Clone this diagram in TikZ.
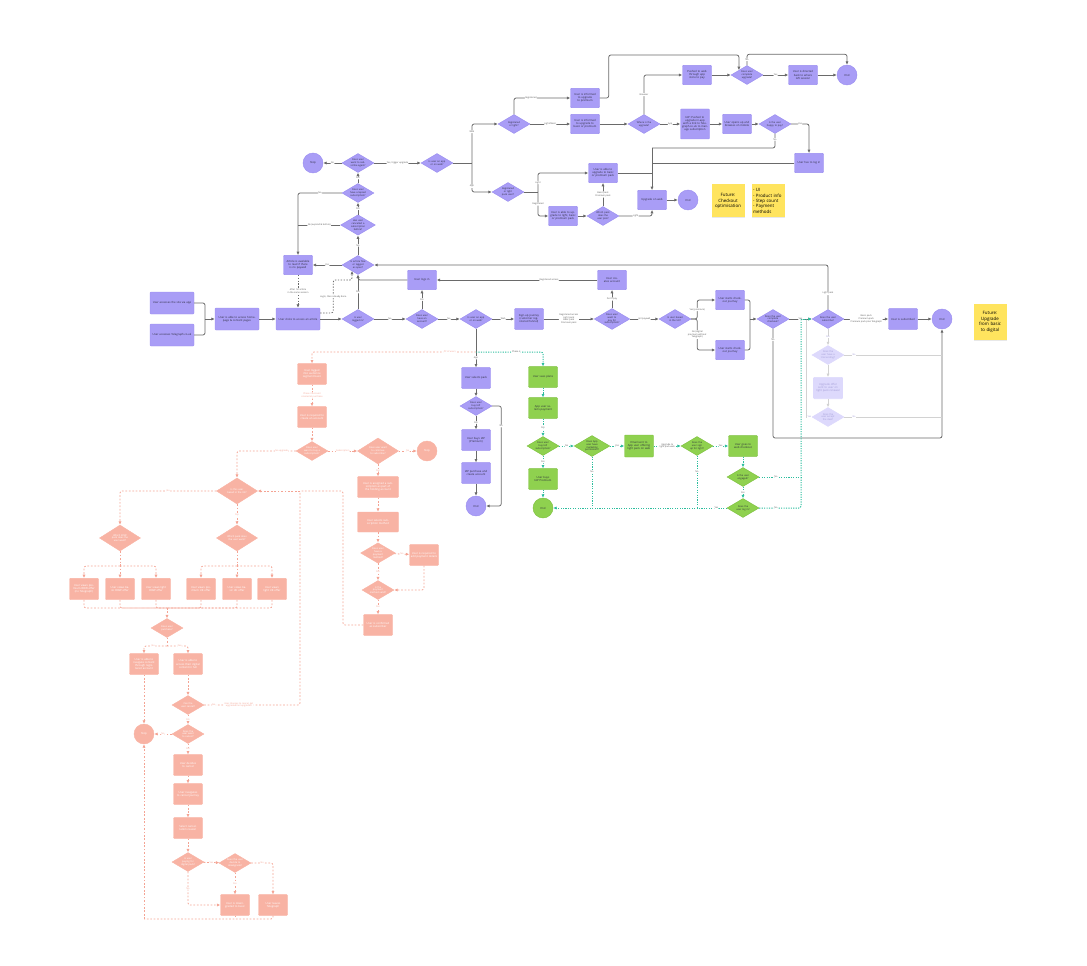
\documentclass[tikz,border=0pt]{standalone}
\usepackage{fontspec}
\setmainfont{Open Sans}
\usepackage{tikz}
\usetikzlibrary{arrows.meta, shapes.geometric, shadows}

\definecolor{lavFill}{HTML}{A99DF6}
\definecolor{lavEdge}{HTML}{9A8DF0}
\definecolor{leafFill}{HTML}{8FD14F}
\definecolor{leafEdge}{HTML}{7DC03E}
\definecolor{coralFill}{HTML}{F8B3A4}
\definecolor{coralLine}{HTML}{F4A494}
\definecolor{ghostFill}{HTML}{DDD9FC}
\definecolor{ghostText}{HTML}{A29CD6}
\definecolor{ghostLine}{HTML}{D2D2D2}
\definecolor{lineGrey}{HTML}{6A6A6A}
\definecolor{labelGrey}{HTML}{555555}
\definecolor{tealLine}{HTML}{2DBE9E}
\definecolor{stickyFill}{HTML}{FFE45E}
\definecolor{nodeInk}{HTML}{2A2A3A}

\newcommand{\nodetext}{\fontsize{1.9}{2.2}\selectfont}
\newcommand{\diatext}{\fontsize{1.7}{2.0}\selectfont}
\newcommand{\edgetext}{\fontsize{1.6}{1.9}\selectfont}
\newcommand{\notetext}{\fontsize{3.1}{3.8}\selectfont}

\begin{document}
\begin{tikzpicture}[x=0.7pt, y=-0.7pt,
    box/.style={rectangle, rounded corners=0.6pt, minimum width=20.3pt, minimum height=13.5pt, text width=18.5pt, align=center, inner sep=0pt, font=\nodetext},
    widebox/.style={box, minimum width=30.8pt, minimum height=15.4pt, text width=28pt},
    dia/.style={diamond, aspect=1.7, minimum width=22.4pt, minimum height=13.3pt, text width=12pt, align=center, inner sep=0pt, font=\diatext},
    bigdia/.style={dia, minimum width=28.7pt, minimum height=18.2pt, text width=15pt},
    term/.style={circle, minimum size=14pt, inner sep=0pt, font=\nodetext},
    lav/.style={fill=lavFill, draw=lavEdge, line width=0.3pt, text=nodeInk},
    leaf/.style={fill=leafFill, draw=leafEdge, line width=0.3pt, text=nodeInk},
    coral/.style={fill=coralFill, draw=coralFill, line width=0.3pt, text=white},
    ghost/.style={fill=ghostFill, draw=ghostFill, text=ghostText},
    conn/.style={draw=lineGrey, line width=0.55pt, rounded corners=1.5pt},
    arr/.style={conn, -{Latex[length=2.4pt, width=2.2pt]}},
    dconn/.style={conn, dash pattern=on 1pt off 1pt},
    darr/.style={dconn, -{Latex[length=2.4pt, width=2.2pt]}},
    pconn/.style={draw=coralLine, line width=0.55pt, dash pattern=on 1.2pt off 1.2pt, rounded corners=1.5pt},
    parr/.style={pconn, -{Latex[length=2.4pt, width=2.2pt]}},
    gconn/.style={draw=tealLine, line width=0.7pt, dash pattern=on 0.8pt off 0.9pt, rounded corners=1.5pt},
    garr/.style={gconn, -{Latex[length=2.4pt, width=2.2pt]}},
    fconn/.style={draw=ghostLine, line width=0.55pt},
    farr/.style={fconn, -{Latex[length=2.4pt, width=2.2pt]}},
    lbl/.style={font=\edgetext, fill=white, inner sep=0.4pt, text=labelGrey, align=center},
    plbl/.style={lbl, text=coralLine},
    note/.style={rectangle, fill=stickyFill, minimum size=23.1pt, text width=21pt, align=center, font=\notetext, inner sep=0pt, drop shadow={opacity=0.18, shadow xshift=0.4pt, shadow yshift=-0.6pt}}]

    \useasboundingbox (0,0) rectangle (1087,965);

    % main row
    \node[widebox, lav] (accessApp) at (172,303) {User accesses the site via app};
    \node[widebox, lav] (accessWeb) at (172,335) {User accesses Telegraph.co.uk};
    \node[widebox, lav] (homepage) at (237,319) {User is able to access homepage \& content pages};
    \node[widebox, lav] (clickArticle) at (298,319) {User clicks to access an article};
    \node[dia, lav] (loggedIn) at (358,319) {Is user logged in?};
    \node[dia, lav] (hasAccount) at (422,319) {Does user have an account?};
    \node[box, lav] (logsIn) at (422,280) {User logs in};
    \node[dia, lav] (appOrWeb) at (476,319) {Is user on app or on web?};
    \node[box, lav, minimum height=14.5pt] (signup) at (529,319) {Sign-up journey (customer registered funnel)};
    \node[dia, lav] (wantPay) at (612,319) {Does user want to pay for subscription?};
    \node[box, lav] (createAcc) at (612,280) {User creates account};
    \node[dia, lav] (inUK) at (675,319) {Is user based in the UK?};
    \node[box, lav] (checkoutUK) at (730,300) {User starts checkout journey};
    \node[box, lav] (checkoutRow) at (730,350) {User starts checkout journey};
    \node[dia, lav] (completes) at (773,319) {Does the user complete checkout?};
    \node[dia, lav] (subscribes) at (828,319) {Does the user subscribe?};
    \node[box, lav, minimum height=14.5pt] (subscribed) at (903,319) {User is subscribed};
    \node[term, lav] (endMain) at (942,319) {End};

    % returning users
    \node[dia, lav] (articleFree) at (358,265) {Is article free or tagged as open?};
    \node[box, lav] (articleRead) at (298,265) {Article is available to read if there is no paywall};
    \node[dia, lav] (cancelledSub) at (358,225) {Has user cancelled a subscription before?};
    \node[dia, lav] (lapsedSub) at (358,193) {Does user have a lapsed subscription?};
    \node[dia, lav] (resubscribe) at (358,163) {Does user want to subscribe again?};
    \node[term, lav] (stopTop) at (313,163) {Stop};
    \node[dia, lav] (appWebTop) at (437,163) {Is user on app or on web?};

    % upgrades
    \node[dia, lav] (regOrLight) at (514,124) {Registered or light?};
    \node[box, lav] (upgradePremium) at (585,98) {User is informed to upgrade to premium};
    \node[box, lav] (upgradeBasic) at (585,124) {User is informed to upgrade to basic or premium};
    \node[dia, lav] (wherePay) at (644,124) {Where is the upgrade?};
    \node[box, lav] (pushedWeb) at (697,75) {Pushed to web through app store to pay};
    \node[dia, lav] (completeUpgrade) at (747,75) {Does user complete upgrade?};
    \node[box, lav] (directedBack) at (803,75) {User is directed back to where left session};
    \node[term, lav] (endTop) at (847,75) {End};
    \node[box, lav, minimum height=21pt] (iapPush) at (695,124) {IAP: Pushed to upgrade in-app with a link to Telegraph.co.uk to manage subscription};
    \node[box, lav] (opensMobile) at (737,124) {User opens up and browses on mobile};
    \node[dia, lav] (happyPay) at (775,124) {Is the user happy to pay?};
    \node[box, lav] (hasLogin) at (809,163) {User has to log in};
    \node[dia, lav] (regOrLightApp) at (508,192) {Registered or light pack user?};
    \node[box, lav] (upgradeBP) at (603,173) {User is able to upgrade to basic or premium pack};
    \node[box, lav] (upgradeLBP) at (563,216) {User is able to upgrade to light, basic or premium pack};
    \node[dia, lav] (whichPack) at (603,216) {Which pack does the user pick?};
    \node[box, lav] (upgradeWeb) at (652,200) {Upgrade on web};
    \node[term, lav] (endUpgrade) at (688,200) {End};

    \node[note] (noteCheckout) at (728,201) {Future:\\Checkout optimisation};
    \node[note, align=left] (noteItems) at (768,201) {- UI\\- Product info\\- Step count\\- Payment methods};
    \node[note, minimum height=25pt] (noteDigital) at (990,322) {Future:\\Upgrade from basic to digital};

    % in-app purchase
    \node[box, lav, minimum height=14.5pt] (selectsPack) at (476,378) {User selects pack};
    \node[dia, lav] (buysIAP) at (476,406) {Does user buy IAP subscription?};
    \node[box, lav, minimum height=14.5pt] (buysPremium) at (476,440) {User buys IAP (Premium)};
    \node[box, lav, minimum height=14.5pt] (iapAccount) at (476,473) {IAP purchase and create account};
    \node[term, lav] (endIAP) at (476,506) {End};

    % phase 2
    \node[box, leaf, minimum height=14.5pt] (gPlans) at (543,377) {User sees plans};
    \node[box, leaf, minimum height=14.5pt] (gSelect) at (543,408) {App user selects payment};
    \node[dia, leaf] (gBuys) at (543,446) {Does user buy IAP subscription?};
    \node[box, leaf, minimum height=14.5pt] (gPremium) at (543,479) {User buys IAP Premium};
    \node[term, leaf] (gEnd) at (543,508) {End};
    \node[dia, leaf] (gMarketing) at (592,446) {Does App user have marketing permission?};
    \node[box, leaf, minimum height=15.4pt] (gEmail) at (639,446) {Email sent to App user offering light pack on web};
    \node[dia, leaf] (gSignup) at (697,446) {Does the user sign up for light?};
    \node[box, leaf, minimum height=14.5pt] (gCheckout) at (743,446) {User goes to web checkout};
    \node[dia, leaf] (gEngaged) at (743,477) {Is the user engaged?};
    \node[dia, leaf] (gLogin) at (743,508) {Does the user log in?};

    \node[dia, ghost] (fTrial) at (828,355) {Does the user have a trial ending?};
    \node[box, ghost, minimum height=15pt] (fOffer) at (828,388) {Upgrade offer sent to user on light pack renewal};
    \node[dia, ghost] (fAccept) at (828,417) {Does the user accept the deal?};

    % phase 3
    \node[box, coral, minimum height=14.5pt] (pSegment) at (312,374) {User logged into audience segment basic};
    \node[box, coral, minimum height=14.5pt] (pCreate) at (312,417) {User is required to create an account};
    \node[dia, coral] (pWantBuy) at (312,451) {Does user want to buy a subscription?};
    \node[bigdia, coral] (pContinue) at (378,451) {Does user want to continue to subscribe?};
    \node[term, coral] (pStop) at (427,451) {Stop};
    \node[box, coral, minimum width=28.7pt, text width=26pt, minimum height=14.5pt] (pAssigned) at (378,487) {User is assigned a subscription as part of the holding account};
    \node[box, coral, minimum width=28.7pt, text width=26pt, minimum height=14pt] (pSelects) at (378,522) {User selects subscription method};
    \node[dia, coral] (pMethod) at (378,553) {Does user have a payment method?};
    \node[box, coral, minimum height=14.5pt] (pAddPay) at (424,555) {User is required to add payment details};
    \node[dia, coral] (pValid) at (378,590) {Is the payment method valid?};
    \node[box, coral, minimum height=14.5pt] (pConfirm) at (378,625) {User is confirmed as subscriber};

    \node[bigdia, coral] (pInUK) at (237,491) {Is this user based in the UK?};
    \node[bigdia, coral] (pWhichRow) at (120,538) {Which ROW pack does the user want?};
    \node[bigdia, coral] (pWhichUK) at (237,538) {Which pack does the user want?};
    \foreach \n/\x/\t in {pRow1/84/premium ROW offer (no Telegraph), pRow2/120/basic ROW offer, pRow3/156/light ROW offer, pUK1/201/premium UK offer, pUK2/237/basic UK offer, pUK3/272/light UK offer} {
        \node[box, coral, minimum height=15pt] (\n) at (\x,589) {User views \t};
    }
    \node[dia, coral] (pPurchase) at (167,628) {Does user purchase?};
    \node[box, coral, minimum height=14.5pt] (pNavigate) at (144,664) {User is able to navigate content through registered account};
    \node[box, coral, minimum height=14.5pt] (pAccess) at (188,664) {User is able to access their digital content in full};
    \node[dia, coral] (pCanCancel) at (188,705) {Can the user cancel?};
    \node[term, coral] (pStopLeft) at (144,734) {Stop};
    \node[dia, coral] (pWantCancel) at (188,734) {Does the user want to cancel?};
    \node[box, coral, minimum height=14.5pt] (pDecides) at (188,765) {User decides to cancel};
    \node[box, coral, minimum height=14.5pt] (pNavCancel) at (188,794) {User navigates to cancel journey};
    \node[box, coral, minimum height=14.5pt] (pReason) at (188,828) {Select cancellation reason};
    \node[dia, coral] (pPaying) at (188,862) {Is user paying for digital pack?};
    \node[dia, coral] (pDowngrade) at (235,863) {Does the user decide to downgrade?};
    \node[box, coral, minimum height=14.5pt] (pDowngraded) at (235,905) {User is downgraded to basic};
    \node[box, coral, minimum height=14.5pt] (pLeaves) at (273,905) {User leaves Telegraph};

    % connectors: main row
    \coordinate (entryJoin) at (205,319);
    \draw[conn] (accessApp.east) -| (entryJoin);
    \draw[conn] (accessWeb.east) -| (entryJoin);
    \draw[arr] (entryJoin) -- (homepage);
    \draw[arr] (homepage) -- (clickArticle);
    \draw[arr] (clickArticle) -- (loggedIn);
    \draw[arr] (loggedIn) -- node[lbl] {Yes} (articleFree);
    \draw[arr] (loggedIn) -- node[lbl] {No} (hasAccount);
    \draw[arr] (hasAccount) -- node[lbl] {Yes} (logsIn);
    \draw[arr] (hasAccount) -- node[lbl] {No} (appOrWeb);
    \draw[arr] (logsIn.west) -| (articleFree.south);
    \draw[arr] (appOrWeb) -- node[lbl] {Web} (signup);
    \draw[arr] (signup) -- node[lbl] {Registered access\\Light pack\\Basic pack\\Premium pack} (wantPay);
    \draw[arr] (wantPay) -- node[lbl] {Don't pay} (createAcc);
    \draw[arr] (createAcc) -- node[lbl, pos=0.3] {Registered access} (logsIn);
    \draw[arr] (wantPay) -- node[lbl] {Hit paywall} (inUK);
    \draw[arr] (inUK.east) -- ++(6,0) |- node[lbl, pos=0.25] {Yes (premium)} (checkoutUK.west);
    \draw[arr] (inUK.east) -- ++(6,0) |- node[lbl, pos=0.25] {No (digital\\premium without\\Telegraph)} (checkoutRow.west);
    \coordinate (checkoutJoin) at (750,319);
    \draw[conn] (checkoutUK.east) -| (checkoutJoin);
    \draw[conn] (checkoutRow.east) -| (checkoutJoin);
    \draw[arr] (checkoutJoin) -- (completes);
    \draw[arr] (completes) -- node[lbl] {Yes} (subscribes);
    \coordinate (lapseCorner) at (773,438);
    \draw[arr] (completes.south) -- node[lbl, pos=0.1] {No} (lapseCorner) -| (endMain.south);
    \draw[arr] (subscribes) -- node[lbl] {Basic pack\\Premium pack\\Premium pack plus Telegraph} (subscribed);
    \draw[arr] (subscribed) -- (endMain);
    \draw[arr] (subscribes.north) |- node[lbl, pos=0.18] {Light pack} (articleFree.east);

    \draw[farr] (subscribes) -- node[lbl, text=ghostText] {Yes} (fTrial);
    \draw[fconn] (fTrial.east) -- node[lbl, text=ghostText, pos=0.1] {No} (fTrial.east -| endMain);
    \draw[farr] (fTrial) -- (fOffer);
    \draw[farr] (fOffer) -- (fAccept);
    \draw[fconn] (fAccept.east) -- node[lbl, text=ghostText, pos=0.1] {No} (fAccept.east -| endMain);
    \coordinate (ghostJoin) at (806,319);
    \draw[fconn] (fAccept.west) -| node[lbl, text=ghostText, pos=0.2] {Yes} (ghostJoin);

    % connectors: returning users
    \draw[arr] (articleFree) -- node[lbl] {Yes} (articleRead);
    \draw[arr] (articleFree) -- node[lbl] {No} (cancelledSub);
    \draw[arr] (cancelledSub) -- node[lbl] {Yes} (lapsedSub);
    \draw[arr] (lapsedSub) -- node[lbl] {Yes} (resubscribe);
    \draw[arr] (lapsedSub.west) -| node[lbl, pos=0.25] {No} (articleRead.north);
    \draw[conn] (cancelledSub.west) -- node[lbl] {No (expired \& before)} (cancelledSub.west -| articleRead);
    \draw[arr] (resubscribe) -- node[lbl] {No} (stopTop);
    \draw[arr] (resubscribe) -- node[lbl] {Yes, trigger upgrade} (appWebTop);
    \draw[darr] (articleRead) -- node[lbl] {After 1st article\\in the same session} (clickArticle);
    \coordinate (loginBend) at (352,280);
    \draw[darr] ([yshift=4.2pt]clickArticle.east) -- ++(13,0) |- node[lbl, pos=0.25] {Login, then already done} (loginBend) -- ++(0,-9);

    % connectors: upgrades
    \coordinate (webAppSplit) at (472,163);
    \draw[conn] (appWebTop) -- (webAppSplit);
    \draw[arr] (webAppSplit) |- node[lbl, pos=0.4] {Web} (regOrLight.west);
    \draw[arr] (webAppSplit) |- node[lbl, pos=0.4] {App} (regOrLightApp.west);
    \draw[arr] (regOrLight.north) |- node[lbl, pos=0.65] {Registered} (upgradePremium.west);
    \draw[arr] (regOrLight) -- node[lbl] {Light/Basic} (upgradeBasic);
    \draw[arr] (upgradeBasic) -- (wherePay);
    \draw[arr] (wherePay.north) |- node[lbl, pos=0.25] {Browser} (pushedWeb.west);
    \draw[arr] (wherePay) -- node[lbl] {App} (iapPush);
    \draw[arr] (pushedWeb) -- (completeUpgrade);
    \draw[arr] (completeUpgrade) -- node[lbl] {Yes} (directedBack);
    \draw[arr] (directedBack) -- (endTop);
    \draw[arr] (upgradePremium.east) -- ++(9,0) -- ++(0,-43) -| (completeUpgrade.north west);
    \draw[arr] (completeUpgrade.north) -- node[lbl] {No} ++(0,-11) -| (endTop.north);
    \draw[arr] (iapPush) -- (opensMobile);
    \draw[arr] (opensMobile) -- (happyPay);
    \draw[arr] (happyPay.east) -| node[lbl, pos=0.25] {Yes} (hasLogin.north);
    \coordinate (webRail) at (652,148);
    \draw[conn] (happyPay.south) |- node[lbl, pos=0.2] {No} (webRail);
    \draw[conn] (hasLogin.west) -- (hasLogin.west -| webRail);
    \draw[arr] (webRail) -- (upgradeWeb);
    \coordinate (appSplit) at (538,192);
    \draw[conn] (regOrLightApp) -- (appSplit);
    \draw[arr] (appSplit) |- node[lbl, pos=0.25] {Light} (upgradeBP.west);
    \draw[arr] (appSplit) |- node[lbl, pos=0.25] {Registered} (upgradeLBP.west);
    \draw[conn] (upgradeBP.east) -- (upgradeBP.east -| webRail);
    \draw[arr] (upgradeLBP) -- (whichPack);
    \draw[arr] (whichPack) -- node[lbl] {Basic pack\\Premium pack} (upgradeBP);
    \draw[arr] (whichPack.east) -| node[lbl, pos=0.25] {Light} (upgradeWeb.south);
    \draw[arr] (upgradeWeb) -- (endUpgrade);

    % connectors: app purchase
    \coordinate (phaseSplit) at (476,352);
    \draw[arr] (appOrWeb) -- node[lbl, pos=0.75] {App} (selectsPack);
    \draw[arr] (selectsPack) -- (buysIAP);
    \draw[arr] (buysIAP) -- node[lbl] {Yes} (buysPremium);
    \draw[arr] (buysPremium) -- (iapAccount);
    \draw[arr] (iapAccount) -- (endIAP);
    \draw[arr] (buysIAP.east) -- ++(9,0) |- node[lbl, pos=0.1] {No} (endIAP.east);

    \draw[garr] (phaseSplit) -| node[lbl, pos=0.3] {Phase 2} (gPlans.north);
    \draw[garr] (gPlans) -- (gSelect);
    \draw[garr] (gSelect) -- node[lbl] {Yes} (gBuys);
    \draw[garr] (gBuys) -- node[lbl] {Yes} (gPremium);
    \draw[garr] (gPremium) -- (gEnd);
    \draw[garr] (gBuys) -- node[lbl] {No} (gMarketing);
    \draw[garr] (gMarketing) -- node[lbl] {Yes} (gEmail);
    \draw[garr] (gEmail) -- node[lbl] {Upgrade to\\light pack web} (gSignup);
    \draw[garr] (gSignup) -- node[lbl] {Yes} (gCheckout);
    \draw[garr] (gCheckout) -- (gEngaged);
    \draw[garr] (gEngaged) -- node[lbl] {Yes} (gLogin);
    \draw[garr] (gLogin) -- node[lbl, pos=0.06] {Yes} (gEnd);
    \draw[gconn] (gMarketing.south) -- node[lbl, pos=0.3] {No} (gMarketing.south |- gEnd);
    \draw[gconn] (gSignup.south) -- node[lbl, pos=0.3] {No} (gSignup.south |- gEnd);
    \coordinate (greenRail) at (801,319);
    \draw[gconn] (gEngaged.east) -- node[lbl, pos=0.4] {No} (gEngaged.east -| greenRail);
    \draw[gconn] (gLogin.east) -| node[lbl, pos=0.2] {No} (greenRail);
    \draw[garr] (greenRail) -- (subscribes.west);

    % connectors: phase 3
    \draw[parr] (phaseSplit) -| node[plbl, pos=0.08] {PP of users} (pSegment.north);
    \draw[parr] (pSegment) -- node[plbl] {Phase 3 account\\created at purchase} (pCreate);
    \draw[parr] (pCreate) -- (pWantBuy);
    \draw[parr] (pWantBuy.west) -| node[plbl, pos=0.12] {No upgrade} (pInUK.north);
    \draw[parr] (pWantBuy) -- node[plbl] {Subscription} (pContinue);
    \draw[parr] (pContinue) -- node[plbl] {No} (pStop);
    \draw[parr] (pContinue) -- node[plbl] {Yes} (pAssigned);
    \draw[parr] (pAssigned) -- (pSelects);
    \draw[parr] (pSelects) -- (pMethod);
    \draw[parr] (pMethod) -- node[plbl] {No} (pAddPay);
    \draw[parr] (pAddPay.south) |- (pValid.east);
    \draw[parr] (pMethod) -- node[plbl] {Yes} (pValid);
    \draw[parr] (pValid) -- node[plbl] {Yes} (pConfirm);
    \coordinate (pinkRail) at (300,491);
    \draw[pconn] (pConfirm.west) -| (343,491) -- (pinkRail);
    \draw[parr] (pinkRail) -- (pInUK);

    \draw[parr] (pInUK.west) -| node[plbl, pos=0.25] {No} (pWhichRow.north);
    \draw[parr] (pInUK) -- node[plbl] {Yes} (pWhichUK);
    \coordinate (rowBus) at (120,566);
    \coordinate (ukBus) at (237,566);
    \draw[pconn] (pWhichRow) -- (rowBus);
    \draw[pconn] (pWhichUK) -- (ukBus);
    \foreach \n in {pRow1,pRow2,pRow3} \draw[parr] (rowBus) -| (\n.north);
    \foreach \n in {pUK1,pUK2,pUK3} \draw[parr] (ukBus) -| (\n.north);
    \coordinate (offerBus) at (167,608);
    \foreach \n in {pRow1,pRow2,pRow3,pUK1,pUK2,pUK3} \draw[pconn] (\n.south) |- (offerBus);
    \draw[parr] (offerBus) -- (pPurchase);
    \coordinate (purchaseBus) at (167,646);
    \draw[pconn] (pPurchase) -- (purchaseBus);
    \draw[parr] (purchaseBus) -| node[plbl, pos=0.3] {No} (pNavigate.north);
    \draw[parr] (purchaseBus) -| node[plbl, pos=0.3] {Yes} (pAccess.north);
    \draw[parr] (pNavigate) -- (pStopLeft);
    \draw[parr] (pAccess) -- (pCanCancel);
    \draw[pconn] (pCanCancel.east) -| node[plbl, pos=0.05] {No} node[plbl, pos=0.18] {User chooses to cancel, get\\upgraded/not upgraded} (pinkRail);
    \draw[parr] (pCanCancel) -- node[plbl] {Yes} (pWantCancel);
    \draw[parr] (pWantCancel) -- node[plbl] {No} (pStopLeft);
    \draw[parr] (pWantCancel) -- node[plbl] {Yes} (pDecides);
    \draw[parr] (pDecides) -- (pNavCancel);
    \draw[parr] (pNavCancel) -- (pReason);
    \draw[parr] (pReason) -- (pPaying);
    \draw[parr] (pPaying) -- node[plbl] {Yes} (pDowngrade);
    \draw[parr] (pDowngrade.east) -| node[plbl, pos=0.25] {No} (pLeaves.north);
    \draw[parr] (pDowngrade) -- node[plbl] {Yes} (pDowngraded);
    \draw[parr] (pPaying.south) |- node[plbl, pos=0.25] {No} (pDowngraded.west);
    \coordinate (bottomBus) at (144,919);
    \draw[pconn] (pLeaves.south) |- (bottomBus);
    \draw[pconn] (pDowngraded.south) -- (pDowngraded.south |- bottomBus);
    \draw[parr] (bottomBus) -- (pStopLeft);
\end{tikzpicture}
\end{document}
